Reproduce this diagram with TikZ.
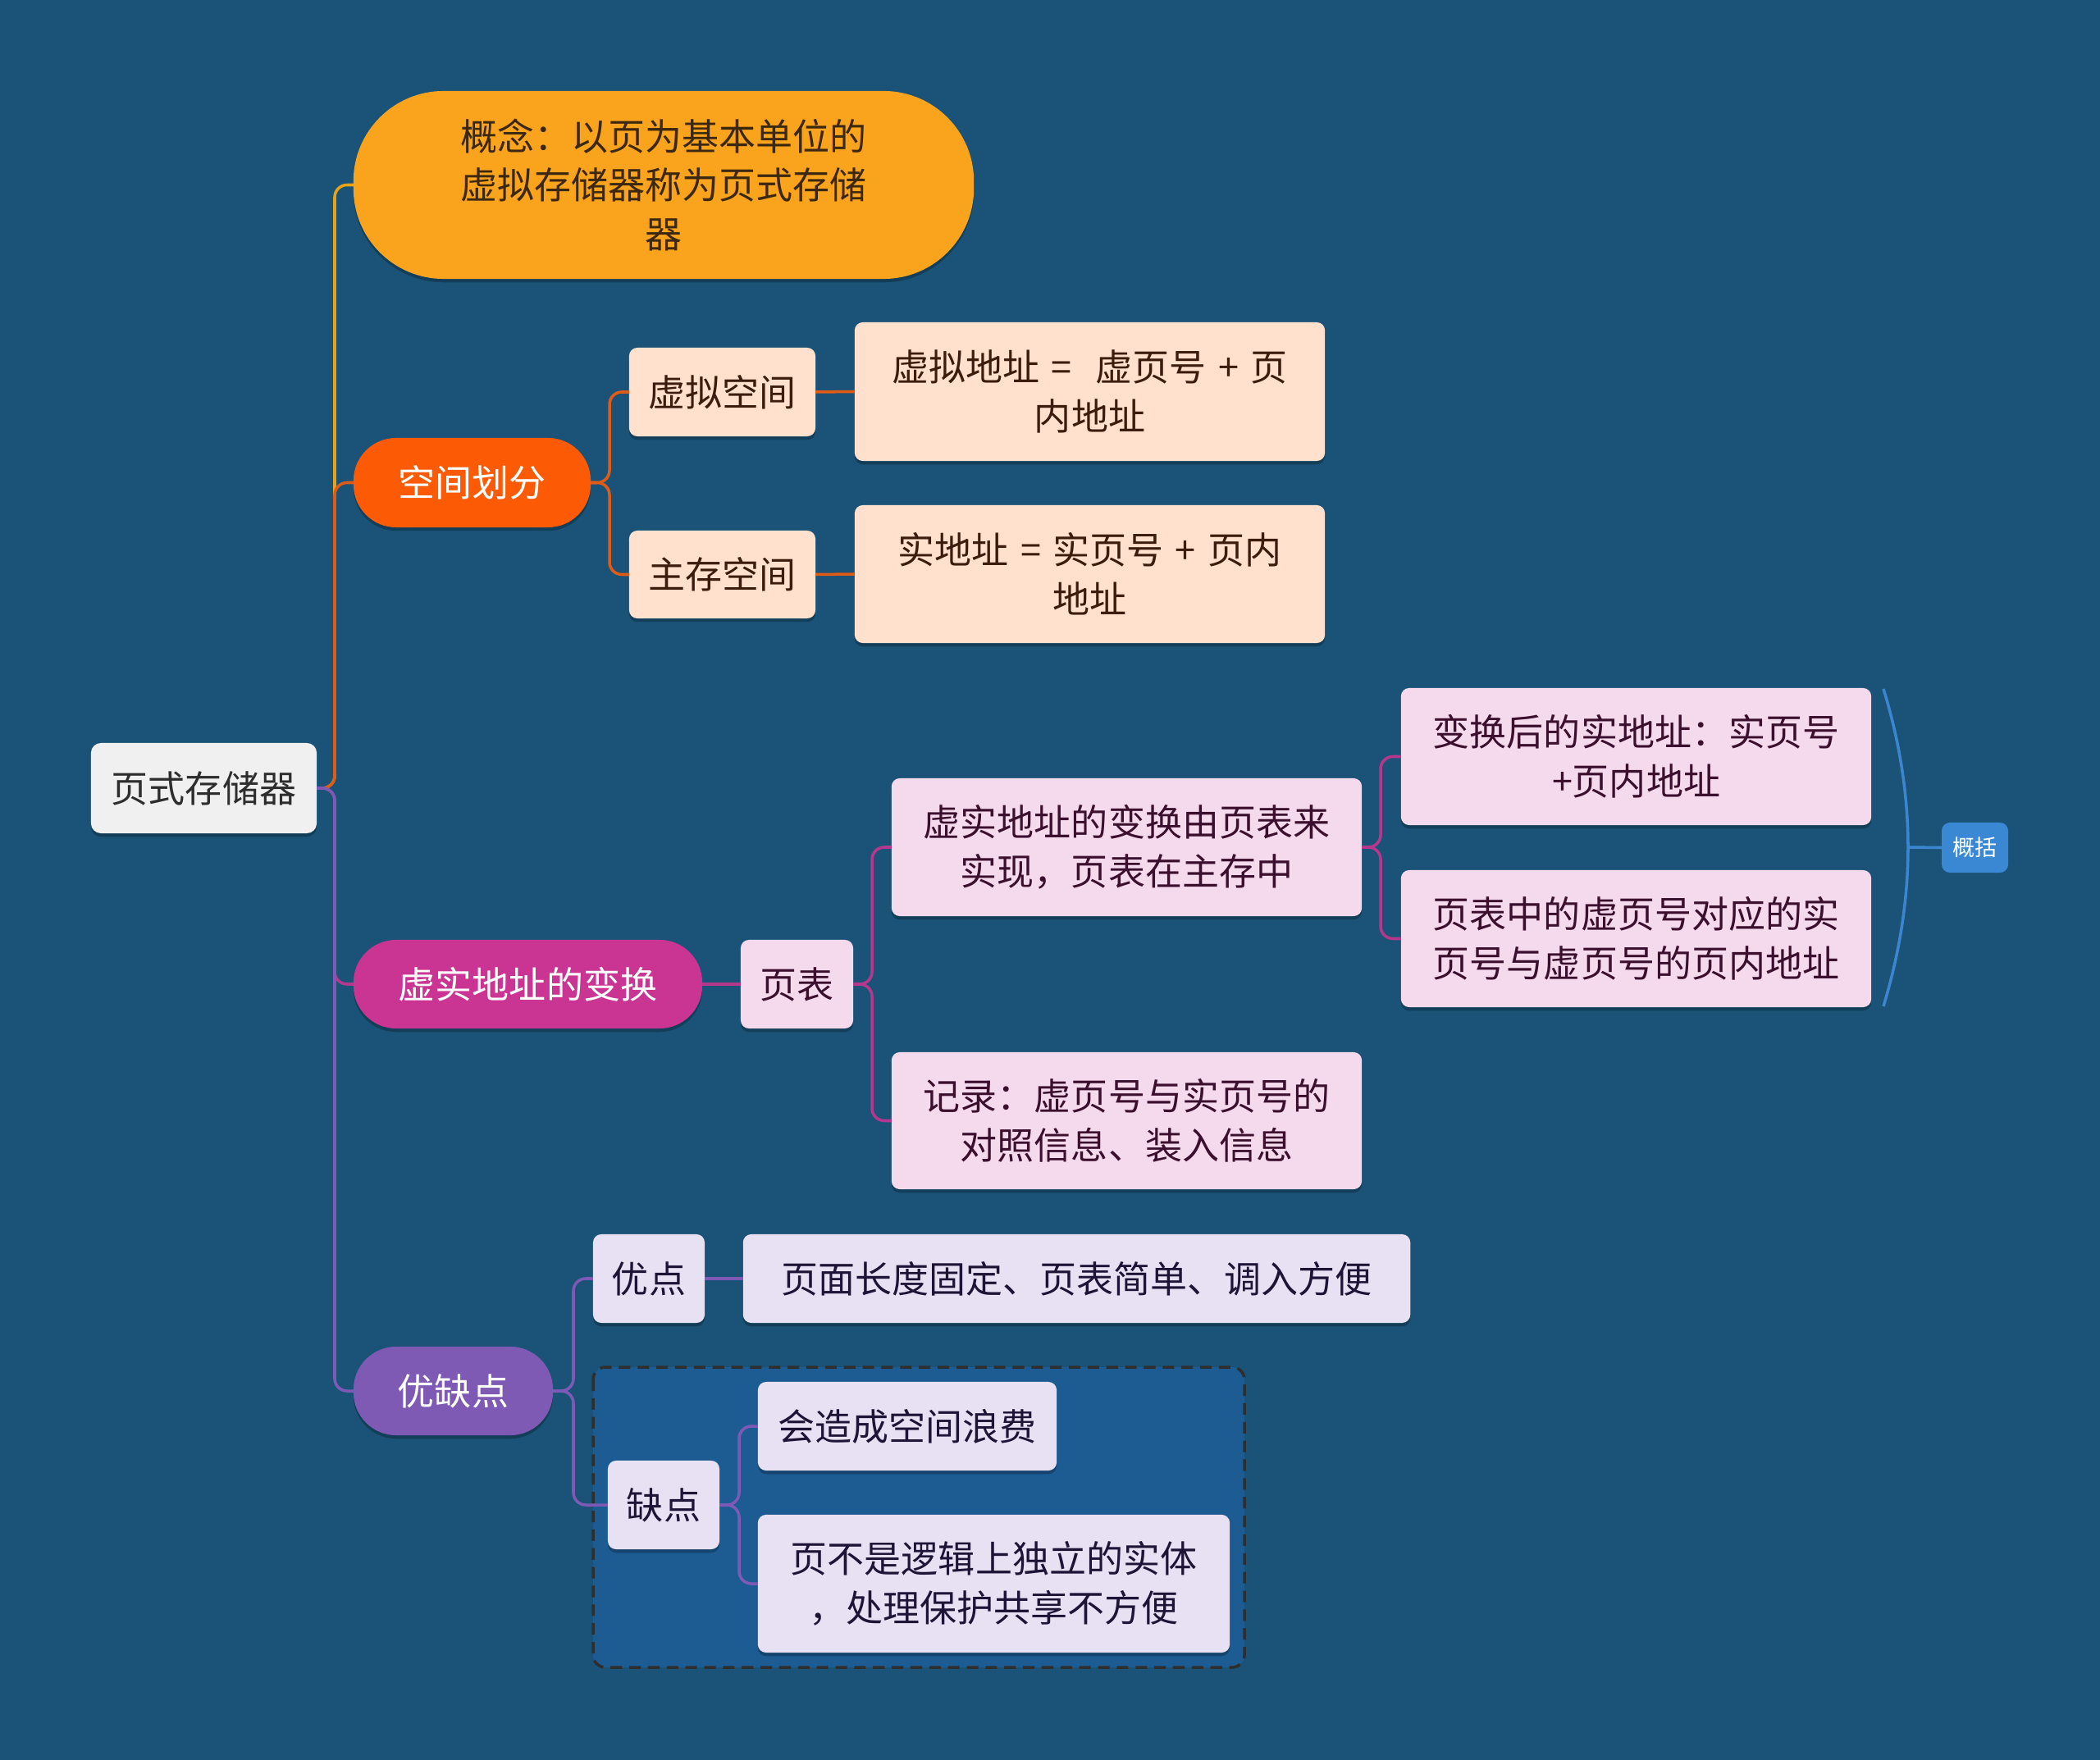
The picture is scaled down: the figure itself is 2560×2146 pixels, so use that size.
\documentclass[tikz,border=0pt]{standalone}
\usepackage{fontspec}
\setmainfont{Noto Sans CJK SC}
\usetikzlibrary{shadows}
\definecolor{bg}{RGB}{26,83,119}
\definecolor{rootfill}{RGB}{240,240,240}
\definecolor{roottext}{RGB}{45,45,45}
\definecolor{gainian}{RGB}{250,164,30}
\definecolor{gainiantext}{RGB}{60,40,15}
\definecolor{kongjian}{RGB}{252,90,5}
\definecolor{peach}{RGB}{255,225,206}
\definecolor{peachtext}{RGB}{60,28,12}
\definecolor{xushi}{RGB}{202,52,147}
\definecolor{pink}{RGB}{245,217,236}
\definecolor{pinktext}{RGB}{58,16,46}
\definecolor{youque}{RGB}{127,90,181}
\definecolor{lav}{RGB}{231,225,243}
\definecolor{lavtext}{RGB}{30,21,54}
\definecolor{grpfill}{RGB}{29,91,147}
\definecolor{grpline}{RGB}{46,46,46}
\definecolor{gaikuo}{RGB}{58,135,211}
\definecolor{lnA}{RGB}{232,163,23}
\definecolor{lnB}{RGB}{224,92,22}
\definecolor{lnC}{RGB}{182,56,142}
\definecolor{lnD}{RGB}{126,90,182}
\definecolor{lnE}{RGB}{60,134,207}
\newcommand{\bx}[7]{%
  \pgfmathsetmacro\bxcx{(#2+#4)/2}%
  \pgfmathsetmacro\bxcy{(#3+#5)/2}%
  \pgfmathsetmacro\bxw{(#4-#2)/100}%
  \pgfmathsetmacro\bxh{(#5-#3)/100}%
  \node[#6, minimum width=\bxw cm, minimum height=\bxh cm] (#1) at (\bxcx,\bxcy) {#7};%
}
\newcommand{\gsp}{\hspace{0.32em}}
\tikzset{
  base/.style={inner sep=0pt, outer sep=0pt, align=center,
    font=\fontsize{12.8}{17}\selectfont,
    drop shadow={shadow xshift=0pt, shadow yshift=-1.2pt, opacity=0.25, fill=black}},
  rootbox/.style={base, fill=rootfill, text=roottext, rounded corners=0.12cm},
  pillA/.style={base, fill=gainian, text=gainiantext, rounded corners=1.1cm},
  pillB/.style={base, fill=kongjian, text=white, rounded corners=0.52cm},
  pillC/.style={base, fill=xushi, text=white, rounded corners=0.52cm},
  pillD/.style={base, fill=youque, text=white, rounded corners=0.52cm},
  peachbox/.style={base, fill=peach, text=peachtext, rounded corners=0.1cm},
  pinkbox/.style={base, fill=pink, text=pinktext, rounded corners=0.1cm},
  lavbox/.style={base, fill=lav, text=lavtext, rounded corners=0.1cm},
  tagbox/.style={inner sep=0pt, outer sep=0pt, align=center, fill=gaikuo, text=white,
    rounded corners=0.1cm, font=\fontsize{7.7}{9}\selectfont},
  conn/.style={line width=1pt, rounded corners=0.15cm},
}
\begin{document}
\begin{tikzpicture}[x=0.01cm, y=-0.01cm]
\fill[bg] (0,0) rectangle (2560,2146);
\useasboundingbox (0,0) rectangle (2560,2146);

% group frame
\draw[grpline, fill=grpfill, line width=1pt, dash pattern=on 4pt off 2.5pt, rounded corners=0.15cm]
  (723,1667) rectangle (1517,2033);

% nodes
\bx{root}{111}{906}{386}{1016}{rootbox}{页式存储器}
\bx{gn}{431}{111}{1187}{340}{pillA}{概念：以页为基本单位的\\虚拟存储器称为页式存储\\器}
\bx{kj}{431}{534}{720}{643}{pillB}{空间划分}
\bx{xnkj}{767}{424}{994}{532}{peachbox}{虚拟空间}
\bx{xndz}{1042}{393}{1615}{562}{peachbox}{虚拟地址\gsp=\gsp\gsp 虚页号\gsp+\gsp 页\\内地址}
\bx{zckj}{767}{647}{994}{754}{peachbox}{主存空间}
\bx{sdz}{1042}{616}{1615}{784}{peachbox}{实地址\gsp=\gsp 实页号\gsp+\gsp 页内\\地址}
\bx{xs}{431}{1146}{856}{1254}{pillC}{虚实地址的变换}
\bx{yb}{903}{1146}{1040}{1254}{pinkbox}{页表}
\bx{bh}{1087}{949}{1660}{1117}{pinkbox}{虚实地址的变换由页表来\\实现，页表在主存中}
\bx{jl}{1087}{1283}{1660}{1450}{pinkbox}{记录：虚页号与实页号的\\对照信息、装入信息}
\bx{bhh}{1708}{839}{2281}{1006}{pinkbox}{变换后的实地址：实页号\\+页内地址}
\bx{ybz}{1708}{1061}{2281}{1228}{pinkbox}{页表中的虚页号对应的实\\页号与虚页号的页内地址}
\bx{gk}{2367}{1003}{2448}{1064}{tagbox}{概括}
\bx{yq}{431}{1642}{674}{1750}{pillD}{优缺点}
\bx{yd}{723}{1505}{859}{1613}{lavbox}{优点}
\bx{ydt}{906}{1505}{1719}{1613}{lavbox}{页面长度固定、页表简单、调入方便}
\bx{qd}{741}{1781}{877}{1889}{lavbox}{缺点}
\bx{lf}{924}{1685}{1288}{1793}{lavbox}{会造成空间浪费}
\bx{bs}{924}{1847}{1499}{2015}{lavbox}{页不是逻辑上独立的实体\\，处理保护共享不方便}

% junction coordinates
\coordinate (s0) at (408,961);
\coordinate (s1) at (743,588.5);
\coordinate (s2) at (1063,1200);
\coordinate (s3) at (1683,1033);
\coordinate (s4) at (699,1696);
\coordinate (s5) at (901,1835);

% connectors from root
\draw[conn, lnA] (root.east) -- (s0) |- (gn.west);
\draw[conn, lnB] (root.east) -- (s0) |- (kj.west);
\draw[conn, lnC] (root.east) -- (s0) |- (xs.west);
\draw[conn, lnD] (root.east) -- (s0) |- (yq.west);

% space division
\draw[conn, lnB] (kj.east) -- (s1) |- (xnkj.west);
\draw[conn, lnB] (kj.east) -- (s1) |- (zckj.west);
\draw[conn, lnB] (xnkj.east) -- (xndz.west);
\draw[conn, lnB] (zckj.east) -- (sdz.west);

% address translation
\draw[conn, lnC] (xs.east) -- (yb.west);
\draw[conn, lnC] (yb.east) -- (s2) |- (bh.west);
\draw[conn, lnC] (yb.east) -- (s2) |- (jl.west);
\draw[conn, lnC] (bh.east) -- (s3) |- (bhh.west);
\draw[conn, lnC] (bh.east) -- (s3) |- (ybz.west);

% pros / cons
\draw[conn, lnD] (yq.east) -- (s4) |- (yd.west);
\draw[conn, lnD] (yq.east) -- (s4) |- (qd.west);
\draw[conn, lnD] (yd.east) -- (ydt.west);
\draw[conn, lnD] (qd.east) -- (s5) |- (lf.west);
\draw[conn, lnD] (qd.east) -- (s5) |- (bs.west);

% summary brace
\coordinate (bt) at (2296,840);
\coordinate (bm) at (2326,1033);
\coordinate (bb) at (2296,1227);
\draw[lnE, line width=1pt] (bt) .. controls (2316,905) and (2326,970) .. (bm)
  .. controls (2326,1096) and (2316,1161) .. (bb);
\draw[lnE, line width=1pt] (bm) -- (gk.west);
\end{tikzpicture}
\end{document}
